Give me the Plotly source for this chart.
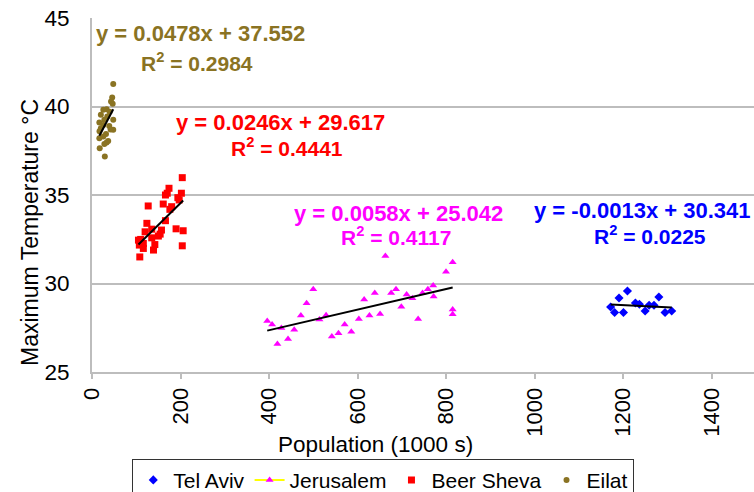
import numpy as np
import plotly.graph_objects as go

# ---------------- data ----------------
tel_x = [1172, 1181, 1191, 1201, 1210, 1228, 1237, 1250, 1259, 1270, 1281, 1295, 1310]
tel_y = [28.67, 28.36, 29.18, 28.36, 29.58, 28.90, 28.83, 28.45, 28.77, 28.77, 29.24, 28.36, 28.45]

jer_x = [396, 407, 419, 428, 443, 457, 472, 485, 500, 514, 529, 542, 557, 571, 586,
         603, 615, 627, 639, 651, 663, 676, 687, 699, 711, 724, 737, 747, 759, 772,
         771, 800, 815, 815, 815]
jer_y = [27.88, 27.68, 26.58, 27.49, 26.86, 27.39, 28.19, 28.88, 29.68, 27.96, 28.20,
         27.00, 27.19, 27.68, 27.28, 28.00, 29.09, 28.19, 29.47, 28.28, 31.56, 29.47,
         29.68, 28.68, 29.38, 29.17, 28.00, 29.47, 29.68, 29.26, 29.89, 30.66, 31.20,
         28.53, 28.26]

beer_x = [204, 174, 170, 166, 202, 194, 197, 161, 127, 180, 176, 166, 124, 190, 206,
          135, 120, 157, 154, 150, 135, 105, 110, 116, 107, 142, 116, 139, 204, 108]
beer_y = [35.98, 35.38, 35.10, 35.00, 35.10, 34.85, 34.72, 34.49, 34.38, 34.34, 34.19,
          33.55, 33.40, 33.09, 32.98, 33.07, 32.92, 33.02, 32.79, 32.68, 32.58, 32.45,
          32.49, 32.26, 32.17, 32.20, 31.98, 31.89, 32.13, 31.50]

eilat_x = [48, 45.6, 43, 46.7, 33, 25.6, 40, 20, 34.6, 48, 27.9, 16.6, 25.6, 39, 20,
           48, 42, 31.6, 17, 25.6, 16.6, 36.6, 33, 27.9, 17.4, 29]
eilat_y = [41.27, 40.51, 40.28, 40.15, 39.85, 39.81, 39.70, 39.53, 39.43, 39.25, 39.25,
           39.10, 38.96, 38.90, 38.77, 38.68, 38.70, 38.45, 38.60, 38.30, 38.20, 38.05,
           37.96, 37.88, 37.64, 37.17]

series_names = ["Tel Aviv", "Jerusalem", "Beer Sheva", "Eilat"]
slopes = [-0.0013, 0.0058, 0.0246, 0.0478]
intercepts = [30.341, 25.042, 29.617, 37.552]
r2_values = [0.0225, 0.4117, 0.4441, 0.2984]

x_ticks = [0, 200, 400, 600, 800, 1000, 1200, 1400]
y_ticks = [25, 30, 35, 40, 45]

# ---------------- styling ----------------
colors = ["#0000FF", "#FF00FF", "#FF0000", "#8A7323"]
symbols = ["diamond", "triangle-up", "square", "circle"]
sizes = [7, 7, 7, 6]
FONT = "Liberation Sans, Arial, sans-serif"
GRID = "#BDBDBD"

xs = [tel_x, jer_x, beer_x, eilat_x]
ys = [tel_y, jer_y, beer_y, eilat_y]

fig = go.Figure()

for i, name in enumerate(series_names):
    is_jer = name == "Jerusalem"
    fig.add_trace(go.Scatter(
        x=xs[i], y=ys[i], mode="markers", name=name,
        marker=dict(symbol=symbols[i], size=sizes[i], color=colors[i]),
        showlegend=not is_jer, legendrank=i + 1,
    ))
    if is_jer:
        # legend entry shows a yellow line through the marker
        fig.add_trace(go.Scatter(
            x=[None], y=[None], mode="lines+markers", name=name,
            line=dict(color="#FFFF00", width=2),
            marker=dict(symbol=symbols[i], size=sizes[i], color=colors[i]),
            legendrank=i + 1,
        ))

# trend lines
for i in range(4):
    xa = np.array([min(xs[i]), max(xs[i])], dtype=float)
    fig.add_trace(go.Scatter(
        x=xa, y=slopes[i] * xa + intercepts[i], mode="lines",
        line=dict(color="black", width=2), showlegend=False, hoverinfo="skip",
    ))

# equation labels (positions in data units)
eq_pos = [(1245, 34.10), (693, 33.98), (426, 39.12), (246, 44.12)]
r2_pos = [(1262, 32.74), (687, 32.68), (440, 37.71), (238, 42.50)]
for i in range(4):
    eq = f"y = {slopes[i]:.4f}x + {intercepts[i]:.3f}"
    fig.add_annotation(x=eq_pos[i][0], y=eq_pos[i][1], text=eq, showarrow=False,
                       xanchor="center", yanchor="middle",
                       font=dict(family=FONT, size=22, color=colors[i], weight="bold"))
    fig.add_annotation(x=r2_pos[i][0], y=r2_pos[i][1],
                       text=f"R<sup>2</sup> = {r2_values[i]:.4f}", showarrow=False,
                       xanchor="center", yanchor="middle",
                       font=dict(family=FONT, size=21, color=colors[i], weight="bold"))

# axis titles
fig.add_annotation(xref="paper", yref="paper", x=-0.094, y=0.395,
                   text="Maximum Temperature \u00b0C", textangle=-90, showarrow=False,
                   xanchor="center", yanchor="middle",
                   font=dict(family=FONT, size=23, color="black"))
fig.add_annotation(xref="paper", yref="paper", x=0.4275, y=-0.206,
                   text="Population (1000 s)", showarrow=False,
                   xanchor="center", yanchor="middle",
                   font=dict(family=FONT, size=22.5, color="black"))

fig.update_layout(
    width=754, height=492,
    margin=dict(l=92, r=0, t=18, b=120, autoexpand=False),
    paper_bgcolor="white", plot_bgcolor="white",
    font=dict(family=FONT, size=22, color="black"),
    showlegend=True,
    legend=dict(orientation="h", x=0.44, xanchor="center", y=-0.245, yanchor="top",
                bordercolor="#333333", borderwidth=1, font=dict(size=21),
                itemwidth=30, tracegroupgap=0, bgcolor="white"),
)
fig.update_xaxes(range=[0, 1496], tickvals=x_ticks, ticktext=[str(v) for v in x_ticks],
                 tickangle=-90, showgrid=False, zeroline=False, automargin=False,
                 showline=True, linecolor=GRID, linewidth=2,
                 ticks="outside", ticklen=5, tickcolor=GRID, tickwidth=1.5,
                 tickfont=dict(size=22))
fig.update_yaxes(range=[25, 45], tickvals=y_ticks, showgrid=True, gridcolor=GRID,
                 gridwidth=1.5, zeroline=False, showline=True, linecolor=GRID,
                 automargin=False,
                 linewidth=2, ticks="", ticklabelstandoff=16, tickfont=dict(size=22.5))

fig.write_html("out.html",
               config={"displayModeBar": False},
               post_script="document.body.style.margin='0';"
                           "document.body.style.overflow='hidden';")
